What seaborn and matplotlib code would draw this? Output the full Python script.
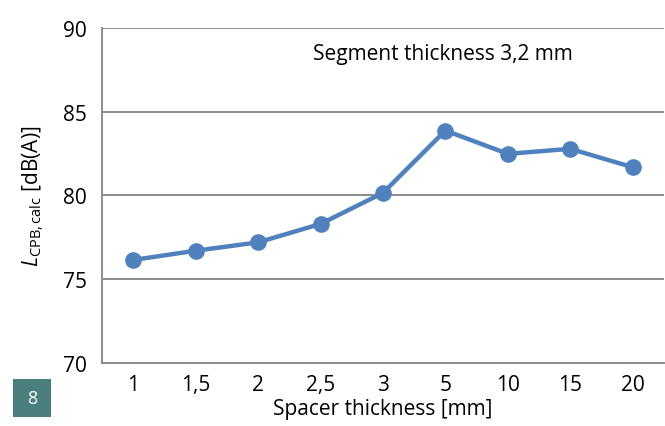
import matplotlib
matplotlib.use("Agg")
import matplotlib.pyplot as plt
import seaborn as sns
import pandas as pd
from matplotlib.patches import Rectangle

categories = ["1", "1,5", "2", "2,5", "3", "5", "10", "15", "20"]
values = [76.15, 76.7, 77.2, 78.3, 80.15, 83.87, 82.48, 82.78, 81.68]
y_ticks = [70, 75, 80, 85, 90]

sns.set_style("white")
plt.rcParams['font.family'] = ['Open Sans', 'DejaVu Sans']
plt.rcParams['mathtext.fontset'] = 'custom'
plt.rcParams['mathtext.rm'] = 'Open Sans'
plt.rcParams['mathtext.it'] = 'Open Sans:italic'
plt.rcParams['text.color'] = 'black'
plt.rcParams['axes.labelcolor'] = 'black'
plt.rcParams['xtick.labelcolor'] = 'black'
plt.rcParams['ytick.labelcolor'] = 'black'

df = pd.DataFrame({"x": categories, "y": values})

fig = plt.figure(figsize=(6.65, 4.27), dpi=100)
ax = fig.add_axes([0.1534, 0.1475, 0.845, 0.785])
color = "#4f81bd"
sns.lineplot(data=df, x="x", y="y", ax=ax, color=color, linewidth=3.2,
             marker="o", markersize=12, markeredgewidth=0, sort=False)

fs = 15
ax.set_xlim(-0.5, 8.5)
ax.set_ylim(70, 90)
ax.set_yticks(y_ticks)
ax.set_yticklabels([str(t) for t in y_ticks], fontsize=fs)
ax.set_xticks(range(len(categories)))
ax.set_xticklabels(categories, fontsize=fs)
ax.set_xticks([i + 0.5 for i in range(len(categories) - 1)], minor=True)
ax.tick_params(axis='x', which='major', length=0, pad=8)
ax.tick_params(axis='x', which='minor', length=6, width=1.3, color="#888888", direction='out')
ax.tick_params(axis='y', length=6, width=1.3, color="#888888", direction='out', pad=5)
ax.yaxis.grid(True, color="#8c8c8c", linewidth=1.4)
ax.set_axisbelow(True)
for s in ["top", "right"]:
    ax.spines[s].set_visible(False)
for s in ["left", "bottom"]:
    ax.spines[s].set_color("#8c8c8c")
    ax.spines[s].set_linewidth(1.4)

ax.set_xlabel("Spacer thickness [mm]", fontsize=fs, labelpad=2)
ax.set_ylabel(r"$\mathit{L}_{\mathrm{CPB,calc}}$ [dB(A)]", fontsize=fs, labelpad=12)

ax.text(0.606, 0.922, "Segment thickness 3,2 mm", transform=ax.transAxes,
        ha="center", va="center", fontsize=fs)

fig.patches.append(Rectangle((13 / 665, 1 - 418 / 427), 38 / 665, 38 / 427,
                             transform=fig.transFigure, facecolor="#4a7f7d",
                             edgecolor="none"))
fig.text(32 / 665, 1 - 399 / 427, "8", color="white", ha="center", va="center", fontsize=13)

fig.savefig("out.png", dpi=100)
